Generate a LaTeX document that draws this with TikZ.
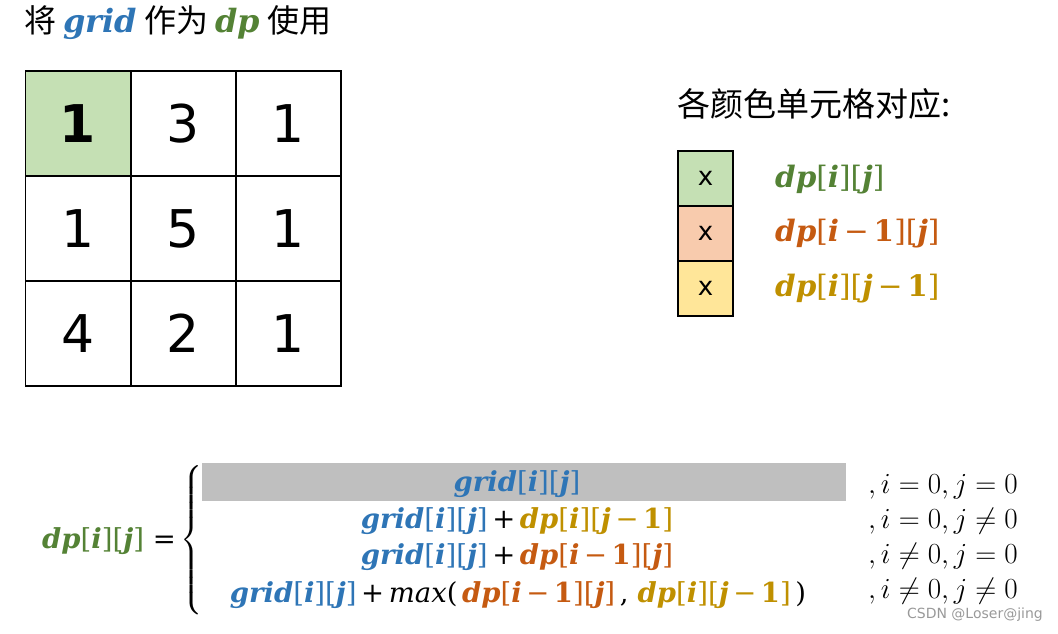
\documentclass[tikz,border=0pt]{standalone}
\usepackage{fontspec}
\usepackage{amsmath}
\newfontfamily\cjk{Noto Sans CJK SC}
\newfontfamily\mf{DejaVu Serif}
\newfontfamily\dg{DejaVu Sans}
\definecolor{cgreen}{HTML}{548235}
\definecolor{corange}{HTML}{C55A11}
\definecolor{cgold}{HTML}{BF9000}
\definecolor{cblue}{HTML}{2E75B6}
\definecolor{fgreen}{HTML}{C5E0B4}
\definecolor{forange}{HTML}{F8CBAD}
\definecolor{fyellow}{HTML}{FFE699}
\definecolor{fgray}{HTML}{BFBFBF}
\newcommand\bi[1]{\textbf{\textit{#1}}}
\newcommand\mgrid{{\color{cblue}\mf\bi{grid}[\bi{i}][\bi{j}]}}
\newcommand\mdp{{\color{cgreen}\mf\bi{dp}[\bi{i}][\bi{j}]}}
\newcommand\mdpi{{\color{corange}\mf\bi{dp}[\bi{i}\,\textminus\,\textbf{1}][\bi{j}]}}
\newcommand\mdpj{{\color{cgold}\mf\bi{dp}[\bi{i}][\bi{j}\,\textminus\,\textbf{1}]}}
\newcommand\plus{{\mf\,+\,}}
\newcommand\cnd[1]{\scalebox{1.17}{$#1$}}
\tikzset{
  cell/.style={draw=black, line width=1.5pt, minimum width=105pt, minimum height=105pt, inner sep=0pt, font=\dg\fontsize{52}{60}\selectfont},
  lbox/.style={draw=black, line width=1.5pt, minimum width=55pt, minimum height=55pt, inner sep=0pt, font=\dg\fontsize{26}{30}\selectfont},
  lbl/.style={anchor=west, inner sep=0pt, font=\fontsize{29.5}{34}\selectfont},
  row/.style={inner sep=0pt, font=\fontsize{27.5}{32}\selectfont},
  cond/.style={anchor=west, inner sep=0pt, font=\fontsize{24.88}{30}\selectfont},
}
\begin{document}
\begin{tikzpicture}[x=1pt,y=-1pt]
\useasboundingbox (0,0) rectangle (1058,633);
% title
\node[anchor=west, inner sep=0pt, font=\fontsize{32}{36}\selectfont] (title) at (24,23)
  {\cjk 将 {\color{cblue}\mf\bi{grid}} 作为 {\color{cgreen}\mf\bi{dp}} 使用};
% grid
\node[cell, fill=fgreen] (c11) at (78,123.5) {\textbf{1}};
\node[cell] (c12) at (183.5,123.5) {3};
\node[cell] (c13) at (288.5,123.5) {1};
\node[cell] (c21) at (78,228.5) {1};
\node[cell] (c22) at (183.5,228.5) {5};
\node[cell] (c23) at (288.5,228.5) {1};
\node[cell] (c31) at (78,333.5) {4};
\node[cell] (c32) at (183.5,333.5) {2};
\node[cell] (c33) at (288.5,333.5) {1};
% legend
\node[anchor=west, inner sep=0pt, font=\cjk\fontsize{33}{36}\selectfont] (ltitle) at (677,104) {各颜色单元格对应:};
\node[lbox, fill=fgreen] (l1) at (705.5,178.5) {x};
\node[lbox, fill=forange] (l2) at (705.5,233.5) {x};
\node[lbox, fill=fyellow] (l3) at (705.5,288.5) {x};
\node[lbl] (t1) at (775,180) {\mdp};
\node[lbl] (t2) at (775,234) {\mdpi};
\node[lbl] (t3) at (775,289) {\mdpj};
% formula
\node[anchor=east, inner sep=0pt, font=\fontsize{27.5}{32}\selectfont] (lhs) at (176,541) {\mdp{\mf\ =}};
\node[inner sep=0pt, font=\fontsize{24.88}{30}\selectfont] (brace) at (192,541) {$\left\{\rule[-70pt]{0pt}{140pt}\right.$};
\fill[fgray] (202,463) rectangle (846,501);
\node[row] (r1) at (517,484) {\mgrid};
\node[row] (r2) at (517,521) {\mgrid\plus\mdpj};
\node[row] (r3) at (517,557) {\mgrid\plus\mdpi};
\node[row] (r4) at (518,595) {\mgrid\plus{\mf\textit{max}(\,}\mdpi{\mf\,,\,\,}\mdpj{\mf\,)}};
\node[cond] (k1) at (868,487) {\cnd{,i=0,j=0}};
\node[cond] (k2) at (868,521) {\cnd{,i=0,j\neq0}};
\node[cond] (k3) at (868,556) {\cnd{,i\neq0,j=0}};
\node[cond] (k4) at (868,591) {\cnd{,i\neq0,j\neq0}};
\node[anchor=east, inner sep=0pt, text=black!40, font=\dg\fontsize{14}{16}\selectfont] (wm) at (1043,615) {CSDN @Loser@jing};
\end{tikzpicture}
\end{document}
